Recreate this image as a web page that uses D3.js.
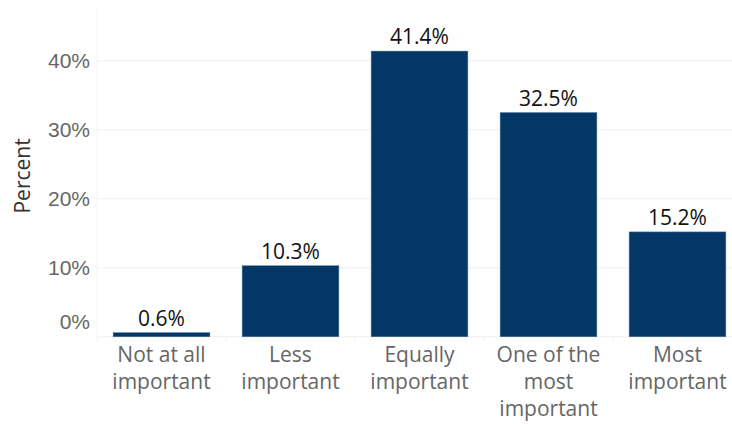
<!DOCTYPE html>
<html>
<head>
<meta charset="utf-8">
<script src="https://cdn.jsdelivr.net/npm/d3@7"></script>
<style>
  html, body { margin: 0; padding: 0; background: #fff; }
  svg { display: block; font-family: "Open Sans", Lato, sans-serif; }
</style>
</head>
<body>
<svg id="chart" width="732" height="424"></svg>
<script>
// Survey answers and their shares (percent)
const categories = [
  ["Not at all", "important"],
  ["Less", "important"],
  ["Equally", "important"],
  ["One of the", "most", "important"],
  ["Most", "important"]
];
const values = [0.6, 10.3, 41.4, 32.5, 15.2];
const yTicks = [0, 10, 20, 30, 40];
const yTickLabels = ["0%", "10%", "20%", "30%", "40%"];
const yTitle = "Percent";

const svg = d3.select("#chart");
const W = 732, H = 424;
const plotLeft = 97, plotRight = 742, plotTop = 9, plotBottom = 336.8;
const fs = 21;

const keys = categories.map((c, i) => String(i));
const x = d3.scaleBand().domain(keys).range([plotLeft, plotRight])
  .paddingInner(0.25).paddingOuter(0.125);
const y = d3.scaleLinear().domain([0, 47.5]).range([plotBottom, plotTop]);

// horizontal gridlines
const grid = svg.append("g");
grid.selectAll("line.h").data(yTicks).join("line")
  .attr("x1", plotLeft).attr("x2", W)
  .attr("y1", d => y(d)).attr("y2", d => y(d))
  .attr("stroke", "#f0f0f0").attr("stroke-width", 1);
// left edge of the panel
grid.append("line")
  .attr("x1", plotLeft).attr("x2", plotLeft)
  .attr("y1", plotTop).attr("y2", plotBottom + 4)
  .attr("stroke", "#f2f2f2").attr("stroke-width", 1);
// small separators between categories below the baseline
const bounds = keys.slice(1).map(k => x(k) - x.step() * x.paddingInner() / 2);
grid.selectAll("line.v").data(bounds).join("line")
  .attr("x1", d => d).attr("x2", d => d)
  .attr("y1", plotBottom).attr("y2", plotBottom + 4)
  .attr("stroke", "#ececec").attr("stroke-width", 1);

// bars
svg.append("g").selectAll("rect").data(values).join("rect")
  .attr("x", (d, i) => x(keys[i]))
  .attr("width", x.bandwidth())
  .attr("y", d => y(d))
  .attr("height", d => y(0) - y(d))
  .attr("fill", "#033766")
  .attr("stroke", "#5a7a9a").attr("stroke-width", 0.5);

// value labels
svg.append("g").selectAll("text").data(values).join("text")
  .attr("x", (d, i) => x(keys[i]) + x.bandwidth() / 2)
  .attr("y", d => y(d) - 7)
  .attr("text-anchor", "middle")
  .attr("font-size", fs)
  .attr("fill", "#111")
  .text(d => d.toFixed(1) + "%");

// y axis labels
const yAxis = d3.axisLeft(y).tickValues(yTicks)
  .tickFormat((d, i) => yTickLabels[i]).tickSize(0).tickPadding(7);
const ya = svg.append("g").attr("transform", `translate(${plotLeft},0)`).call(yAxis);
ya.select(".domain").remove();
ya.selectAll("text")
  .attr("font-size", fs).attr("fill", "#666").attr("font-family", null)
  .attr("dy", d => d === 0 ? "-0.4em" : "0.32em");

// x axis labels
const xg = svg.append("g");
categories.forEach((lines, i) => {
  const cx = x(keys[i]) + x.bandwidth() / 2;
  const t = xg.append("text")
    .attr("x", cx)
    .attr("y", 362)
    .attr("text-anchor", "middle")
    .attr("font-size", fs)
    .attr("fill", "#666");
  lines.forEach((s, j) => {
    t.append("tspan").attr("x", cx)
      .attr("dy", j === 0 ? 0 : 27).text(s);
  });
});

// y title
svg.append("text")
  .attr("transform", `translate(30,${(plotTop + plotBottom) / 2 + 3}) rotate(-90)`)
  .attr("text-anchor", "middle")
  .attr("font-size", fs)
  .attr("fill", "#333")
  .text(yTitle);
</script>
</body>
</html>
